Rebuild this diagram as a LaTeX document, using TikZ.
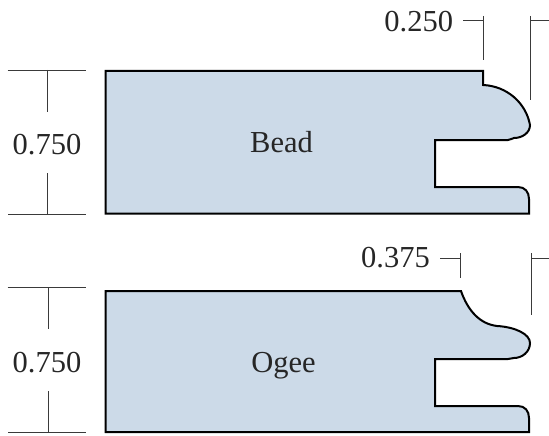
\documentclass[tikz,border=0pt]{standalone}
\usepackage{fontspec}
\setmainfont{Liberation Serif}
\definecolor{profile}{HTML}{CCDAE8}
\definecolor{dimline}{HTML}{3A3A3A}
\tikzset{
  moulding/.style={draw=black,fill=profile,line width=2pt,line join=miter},
  dimen/.style={draw=dimline,line width=0.9pt},
  lbl/.style={inner sep=0pt,anchor=base,text=black!85,font=\fontsize{30.5}{32}\selectfont}
}
\begin{document}
\begin{tikzpicture}[x=1pt,y=-1pt]
\useasboundingbox (0,0) rectangle (549,436);
% Bead
\draw[moulding] (105.5,71) -- (483,71) -- (483,85)
  .. controls (507,86) and (526,103) .. (530,125)
  .. controls (530,133) and (522,138) .. (514,138)
  .. controls (512,138) and (511,140) .. (508,140)
  -- (435,140) -- (435,187) -- (518,187)
  .. controls (525,187) and (529,192) .. (529,199)
  -- (529,213.5) -- (105.5,213.5) -- cycle;
\node[lbl] (bead) at (281.5,152) {Bead};
% Ogee
\draw[moulding] (105.5,291) -- (461,291)
  .. controls (468,311) and (480,324) .. (497,326)
  .. controls (515,327) and (530,334) .. (530,343)
  .. controls (530,352) and (522,358) .. (514,358)
  .. controls (511,358) and (511,359) .. (508,359)
  -- (435,359) -- (435,406) -- (518,406)
  .. controls (525,406) and (529,411) .. (529,418)
  -- (529,432) -- (105.5,432) -- cycle;
\node[lbl] (ogee) at (283.5,372) {Ogee};
% Upper dimensions
\node[lbl] (d250) at (418.7,32) {0.250};
\draw[dimen] (463,20.5) -- (483.5,20.5);
\draw[dimen] (483.5,16) -- (483.5,60);
\draw[dimen] (530.5,16) -- (530.5,100);
\draw[dimen] (530.5,20.5) -- (549,20.5);
\node[lbl] (d750a) at (47,154) {0.750};
\draw[dimen] (7.5,70) -- (85.5,70);
\draw[dimen] (47,70) -- (47,112);
\draw[dimen] (47,173) -- (47,214);
\draw[dimen] (8,214) -- (86,214);
% Lower dimensions
\node[lbl] (d375) at (395.5,267.7) {0.375};
\draw[dimen] (440,258) -- (460,258);
\draw[dimen] (460,253) -- (460,278);
\draw[dimen] (531,253) -- (531,315);
\draw[dimen] (531,258) -- (549,258);
\node[lbl] (d750b) at (47,372) {0.750};
\draw[dimen] (7.5,287.5) -- (85.5,287.5);
\draw[dimen] (48.5,287.5) -- (48.5,329);
\draw[dimen] (48.5,391) -- (48.5,432);
\draw[dimen] (8,432) -- (86,432);
\end{tikzpicture}
\end{document}
